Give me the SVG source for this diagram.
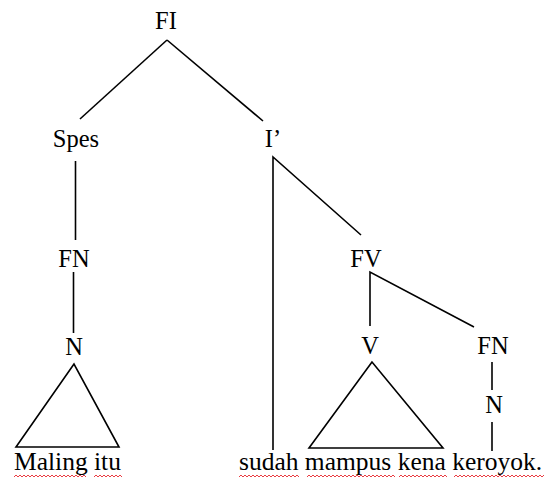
<svg xmlns="http://www.w3.org/2000/svg" width="544" height="483" viewBox="0 0 544 483">
  <style>
    text { font-family: "Liberation Serif", "Times New Roman", Tinos, "Nimbus Roman", "DejaVu Serif", serif; fill: #000; }
    .lbl { font-size: 24.5px; text-anchor: middle; }
    .word { font-size: 25.5px; }
    .edge { stroke: #000; stroke-width: 1.6; fill: none; }
    .tri { stroke: #000; stroke-width: 1.6; fill: none; stroke-linejoin: miter; }
    .squiggle { stroke: #e8262d; stroke-width: 0.9; fill: none; }
  </style>

  <rect width="544" height="483" fill="#fff"/>

  <!-- branches -->
  <g id="connectors">
    <line class="edge" x1="167" y1="40" x2="80" y2="119"/>
    <line class="edge" x1="167" y1="40" x2="263" y2="121"/>
    <line class="edge" x1="75.5" y1="161" x2="75.5" y2="240"/>
    <line class="edge" x1="73.5" y1="272" x2="73.5" y2="333"/>
    <polyline class="edge" points="273,450 273,157 361,235"/>
    <polyline class="edge" points="370,326 370,272 474,327"/>
    <line class="edge" x1="492" y1="362" x2="492" y2="390"/>
    <line class="edge" x1="492" y1="422" x2="492" y2="451"/>
  </g>

  <!-- phrase nodes -->
  <g id="node-fi"><text class="lbl" x="166" y="29">FI</text></g>
  <g id="node-spes"><text class="lbl" x="76" y="147">Spes</text></g>
  <g id="node-ibar"><text class="lbl" x="273" y="147">I’</text></g>
  <g id="node-fn-subj"><text class="lbl" x="74" y="267">FN</text></g>
  <g id="node-n-subj"><text class="lbl" x="74" y="355">N</text></g>
  <g id="node-fv"><text class="lbl" x="366" y="267">FV</text></g>
  <g id="node-v"><text class="lbl" x="370" y="354">V</text></g>
  <g id="node-fn-obj"><text class="lbl" x="493" y="354">FN</text></g>
  <g id="node-n-obj"><text class="lbl" x="494" y="413">N</text></g>

  <!-- roof triangles -->
  <g id="roof-subj"><polygon class="tri" points="74,364 16,447 119,447"/></g>
  <g id="roof-v"><polygon class="tri" points="372,362 309,448 443,448"/></g>

  <!-- terminal strings with spell-check underlines -->
  <g id="leaf-subj">
    <text class="word" x="14" y="470">Maling itu</text>
    <path class="squiggle" d="M14 477l2-2l2 2l2-2l2 2l2-2l2 2l2-2l2 2l2-2l2 2l2-2l2 2l2-2l2 2l2-2l2 2l2-2l2 2l2-2l2 2l2-2l2 2l2-2l2 2l2-2l2 2l2-2l2 2l2-2l2 2l2-2l2 2l2-2l2 2l2-2l2 2"/>
    <path class="squiggle" d="M94 477l2-2l2 2l2-2l2 2l2-2l2 2l2-2l2 2l2-2l2 2l2-2l2 2l2-2l2 2"/>
  </g>
  <g id="leaf-pred">
    <text class="word" x="239" y="470">sudah mampus kena keroyok.</text>
    <path class="squiggle" d="M239 477l2-2l2 2l2-2l2 2l2-2l2 2l2-2l2 2l2-2l2 2l2-2l2 2l2-2l2 2l2-2l2 2l2-2l2 2l2-2l2 2l2-2l2 2l2-2l2 2l2-2l2 2l2-2l2 2l2-2l2 2"/>
    <path class="squiggle" d="M307 477l2-2l2 2l2-2l2 2l2-2l2 2l2-2l2 2l2-2l2 2l2-2l2 2l2-2l2 2l2-2l2 2l2-2l2 2l2-2l2 2l2-2l2 2l2-2l2 2l2-2l2 2l2-2l2 2l2-2l2 2l2-2l2 2l2-2l2 2l2-2l2 2l2-2l2 2l2-2l2 2l2-2l2 2l2-2l2 2"/>
    <path class="squiggle" d="M399 477l2-2l2 2l2-2l2 2l2-2l2 2l2-2l2 2l2-2l2 2l2-2l2 2l2-2l2 2l2-2l2 2l2-2l2 2l2-2l2 2l2-2l2 2l2-2l2 2"/>
    <path class="squiggle" d="M454 477l2-2l2 2l2-2l2 2l2-2l2 2l2-2l2 2l2-2l2 2l2-2l2 2l2-2l2 2l2-2l2 2l2-2l2 2l2-2l2 2l2-2l2 2l2-2l2 2l2-2l2 2l2-2l2 2l2-2l2 2l2-2l2 2l2-2l2 2l2-2l2 2l2-2l2 2l2-2l2 2l2-2l2 2l2-2l2 2l2-2l2 2"/>
  </g>
</svg>
